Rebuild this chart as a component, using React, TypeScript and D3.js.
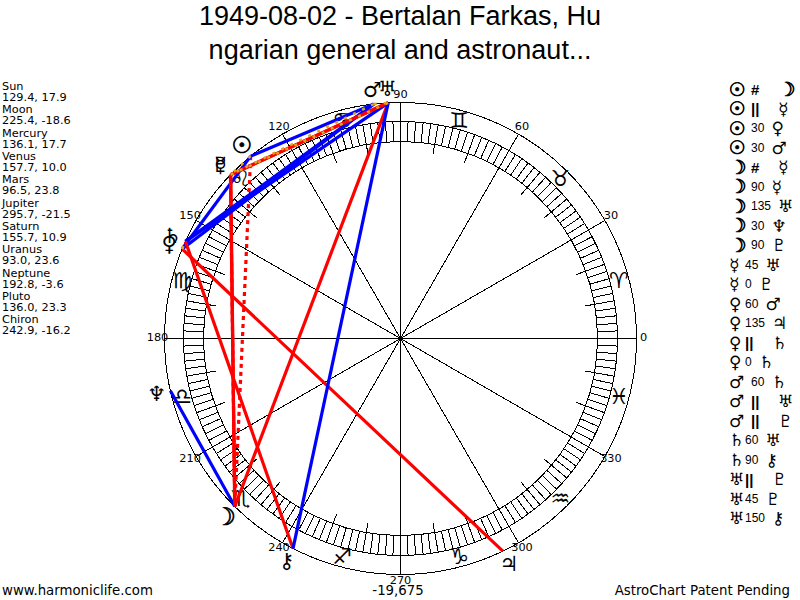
import React from "react";
import * as d3 from "d3";

const planetNames = ["Sun", "Moon", "Mercury", "Venus", "Mars", "Jupiter", "Saturn", "Uranus", "Neptune", "Pluto", "Chiron"];
const planetLon = [129.4, 225.4, 136.1, 157.7, 96.5, 295.7, 155.7, 93.0, 192.8, 136.0, 242.9];
const planetLat = ["17.9", "-18.6", "17.7", "10.0", "23.8", "-21.5", "10.9", "23.6", "-3.6", "23.3", "-16.2"];
const planetGlyphs = ["☉", "☽", "☿", "♀", "♂", "♃", "♄", "♅", "♆", "♇", "⚷"];
const signGlyphs = ["♈", "♉", "♊", "♋", "♌", "♍", "♎", "♏", "♐", "♑", "♒", "♓"];

// from, label, to
const aspects: [string, string, string][] = [
  ["Sun", "#", "Moon"],
  ["Sun", "||", "Mercury"],
  ["Sun", "30", "Venus"],
  ["Sun", "30", "Mars"],
  ["Moon", "#", "Mercury"],
  ["Moon", "90", "Mercury"],
  ["Moon", "135", "Uranus"],
  ["Moon", "30", "Neptune"],
  ["Moon", "90", "Pluto"],
  ["Mercury", "45", "Uranus"],
  ["Mercury", "0", "Pluto"],
  ["Venus", "60", "Mars"],
  ["Venus", "135", "Jupiter"],
  ["Venus", "||", "Saturn"],
  ["Venus", "0", "Saturn"],
  ["Mars", "60", "Saturn"],
  ["Mars", "||", "Uranus"],
  ["Mars", "||", "Pluto"],
  ["Saturn", "60", "Uranus"],
  ["Saturn", "90", "Chiron"],
  ["Uranus", "||", "Pluto"],
  ["Uranus", "45", "Pluto"],
  ["Uranus", "150", "Chiron"],
];

const cx = 400.5;
const cy = 338.5;
const rOuter = 236;
const rBandOut = 217;
const rBandIn = 197;
const rTick = 187;

const rowY = d3.scaleLinear().domain([0, 22]).range([89, 518]);
const lon = d3.scaleLinear().domain([0, 360]).range([0, 2 * Math.PI]);

function pt(deg: number, r: number): [number, number] {
  const a = lon(deg);
  return [cx + r * Math.cos(a), cy - r * Math.sin(a)];
}

function isGold(label: string) {
  return label === "||" || label === "0";
}

function lineStyle(label: string) {
  if (label === "#") return { stroke: "#ff0000", dash: "4 4", width: 3.2 };
  if (isGold(label)) return { stroke: "#daa520", dash: "3 7", width: 2.5 };
  if (["30", "60", "150"].includes(label)) return { stroke: "#0000ff", dash: undefined, width: 3.2 };
  return { stroke: "#ff0000", dash: undefined, width: 3.2 };
}

function glyphSize(g: string, base: number) {
  if (g === "☽") return base * 1.15;
  if (g === "☉") return base * 1.1;
  return base;
}

function Spoke({ deg, r0, r1 }: { deg: number; r0: number; r1: number }) {
  const [x1, y1] = pt(deg, r0);
  const [x2, y2] = pt(deg, r1);
  return <line x1={x1} y1={y1} x2={x2} y2={y2} stroke="#000" strokeWidth={1} />;
}

function Glyph({ g, x, y, base }: { g: string; x: number; y: number; base: number }) {
  // the sun and moon are heavier than the rest in the reference
  const heavy = g === "☉" || g === "☽";
  return (
    <text
      x={x}
      y={y}
      fontSize={glyphSize(g, base)}
      dominantBaseline="central"
      stroke={heavy ? "#000" : "none"}
      strokeWidth={heavy ? 0.7 : 0}
    >
      {g + "\uFE0E"}
    </text>
  );
}

export default function App() {
  const idx = (n: string) => planetNames.indexOf(n);
  // gold parallels sit on top of the red and blue lines
  const ordered = [...aspects].sort((a, b) => Number(isGold(a[1])) - Number(isGold(b[1])));
  return (
    <svg
      width={800}
      height={600}
      style={{ position: "fixed", left: 0, top: 0, background: "#fff" }}
      fontFamily="'DejaVu Sans'"
    >
      <g fontFamily="'Liberation Sans'" fontSize={27} textAnchor="middle">
        <text x={400} y={25}>1949-08-02 - Bertalan Farkas, Hu</text>
        <text x={400} y={59}>ngarian general and astronaut...</text>
      </g>

      <g fontSize={11.3}>
        {planetNames.map((n, i) => (
          <g key={n}>
            <text x={2} y={90 + i * 23.33}>{n}</text>
            <text x={2} y={101 + i * 23.33}>{planetLon[i].toFixed(1)}, {planetLat[i]}</text>
          </g>
        ))}
      </g>

      <g shapeRendering="crispEdges">
        <g fill="none" stroke="#000">
          <circle cx={cx} cy={cy} r={rOuter} />
          <circle cx={cx} cy={cy} r={rBandOut} />
          <circle cx={cx} cy={cy} r={rBandIn} />
        </g>
        {d3.range(0, 360, 2).map((d) => (
          <Spoke key={d} deg={d} r0={rBandIn} r1={rBandOut} />
        ))}
        {d3.range(0, 360, 10).map((d) => (
          <Spoke key={d} deg={d} r0={rTick} r1={rBandIn} />
        ))}
        {d3.range(0, 360, 30).map((d) => (
          <Spoke key={d} deg={d} r0={0} r1={rOuter} />
        ))}
      </g>
      <circle cx={cx} cy={cy} r={2.5} fill="#000" />

      <g fontSize={11.3} textAnchor="middle" fill="#000">
        {d3.range(0, 360, 30).map((d) => {
          const [x, y] = pt(d, 243);
          return <text key={d} x={x} y={y + 2}>{d}</text>;
        })}
      </g>

      <g textAnchor="middle">
        {signGlyphs.map((g, i) => {
          const [x, y] = pt(15 + i * 30, 226);
          return <Glyph key={g} g={g} x={x} y={y} base={22} />;
        })}
      </g>

      <g>
        {ordered.map(([a, l, b], i) => {
          const [x1, y1] = pt(planetLon[idx(a)], rOuter);
          const [x2, y2] = pt(planetLon[idx(b)], rOuter);
          const s = lineStyle(l);
          return <line key={i} x1={x1} y1={y1} x2={x2} y2={y2} stroke={s.stroke} strokeWidth={s.width} strokeDasharray={s.dash} />;
        })}
      </g>

      <g textAnchor="middle">
        {planetNames.map((n, i) => {
          const [x, y] = pt(planetLon[i], 250);
          return <Glyph key={n} g={planetGlyphs[i]} x={x} y={y} base={21} />;
        })}
      </g>

      <g>
        {aspects.map(([a, l, b], i) => {
          const y = rowY(i);
          const wide = a === "Sun" || a === "Moon" || a === "Mars";
          const lx = wide ? 751 : 745;
          const symbol = l === "#" || l === "||";
          const x2 = symbol ? lx + 27 : lx + l.length * 6.7 + 7;
          return (
            <g key={i}>
              <Glyph g={planetGlyphs[idx(a)]} x={729} y={y} base={17} />
              <text x={lx} y={y} dominantBaseline="central" fontFamily="'Liberation Sans'" fontSize={symbol ? 15 : 12} fontWeight={symbol ? "bold" : "normal"}>{l}</text>
              <Glyph g={planetGlyphs[idx(b)]} x={x2} y={y} base={17} />
            </g>
          );
        })}
      </g>

      <g fontSize={13.3}>
        <text x={2} y={595}>www.harmoniclife.com</text>
        <text x={398} y={595} textAnchor="middle">-19,675</text>
        <text x={790} y={595} textAnchor="end">AstroChart Patent Pending</text>
      </g>
    </svg>
  );
}
